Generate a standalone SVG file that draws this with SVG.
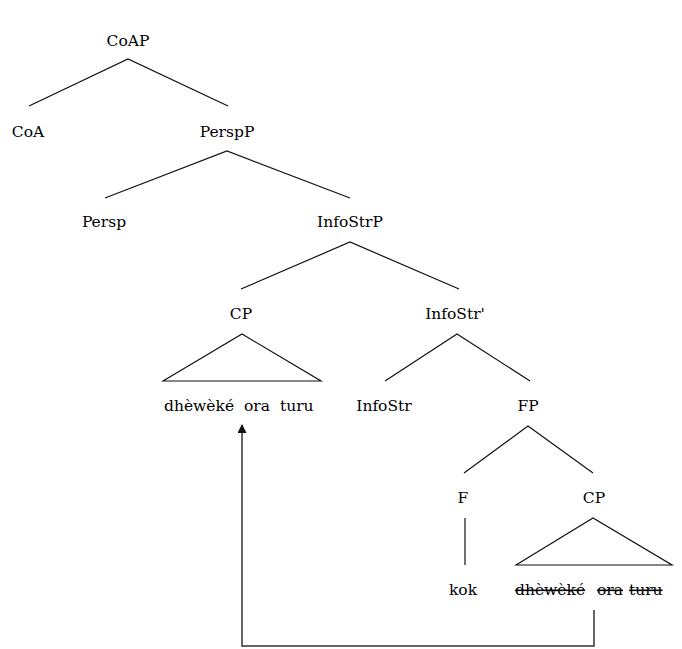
<svg xmlns="http://www.w3.org/2000/svg" width="682" height="649" viewBox="0 0 682 649">
  <style>
    .lbl { font-family: "DejaVu Serif", "Liberation Serif", serif; font-size: 15.5px; fill: #000; text-anchor: middle; }
    .word { font-family: "DejaVu Serif", "Liberation Serif", serif; font-size: 15.5px; fill: #000; text-anchor: start; }
    .struck { text-decoration: line-through; }
    .branch { stroke: #111; stroke-width: 1.2; fill: none; }
    .move { stroke: #333; stroke-width: 1.5; fill: none; }
  </style>
  <defs>
    <marker id="arrowHead" viewBox="0 0 10 10" refX="9" refY="5" markerWidth="10" markerHeight="9" markerUnits="userSpaceOnUse" orient="auto">
      <path d="M0,0 L10,5 L0,10 z" fill="#111"/>
    </marker>
  </defs>
  <rect width="682" height="649" fill="#fff"/>

  <!-- tree branches -->
  <g id="connectors">
    <path class="branch" d="M29,106 L128,59 L228,106"/>
    <path class="branch" d="M105,198 L227,151 L350,198"/>
    <path class="branch" d="M241,289 L350,242 L459,289"/>
    <path class="branch" d="M163,381 L242,334 L321,381 Z"/>
    <path class="branch" d="M385,381 L457,334 L530,381"/>
    <path class="branch" d="M464,473 L528,426 L593,473"/>
    <path class="branch" d="M465,518 L465,565"/>
    <path class="branch" d="M516,565 L593,518 L672,565 Z"/>
    <path class="move" d="M594,610 L594,646 L242,646 L242,425" marker-end="url(#arrowHead)"/>
  </g>

  <g id="CoAP"><text class="lbl" x="128" y="46">CoAP</text></g>
  <g id="CoA"><text class="lbl" x="28" y="137">CoA</text></g>
  <g id="PerspP"><text class="lbl" x="227" y="137">PerspP</text></g>
  <g id="Persp"><text class="lbl" x="104" y="227">Persp</text></g>
  <g id="InfoStrP"><text class="lbl" x="350" y="227">InfoStrP</text></g>
  <g id="CP-upper"><text class="lbl" x="241" y="319">CP</text></g>
  <g id="InfoStrBar"><text class="lbl" x="455" y="319">InfoStr'</text></g>
  <g id="phrase-moved">
    <text class="word" x="164" y="411">dhèwèké</text>
    <text class="word" x="244" y="411">ora</text>
    <text class="word" x="280" y="411">turu</text>
  </g>
  <g id="InfoStr"><text class="lbl" x="384" y="411">InfoStr</text></g>
  <g id="FP"><text class="lbl" x="528" y="411">FP</text></g>
  <g id="F"><text class="lbl" x="463" y="503">F</text></g>
  <g id="CP-lower"><text class="lbl" x="594" y="503">CP</text></g>
  <g id="kok"><text class="lbl" x="463" y="595">kok</text></g>
  <g id="phrase-copy">
    <text class="word struck" x="515" y="595">dhèwèké</text>
    <text class="word struck" x="597" y="595">ora</text>
    <text class="word struck" x="629" y="595">turu</text>
  </g>
</svg>
